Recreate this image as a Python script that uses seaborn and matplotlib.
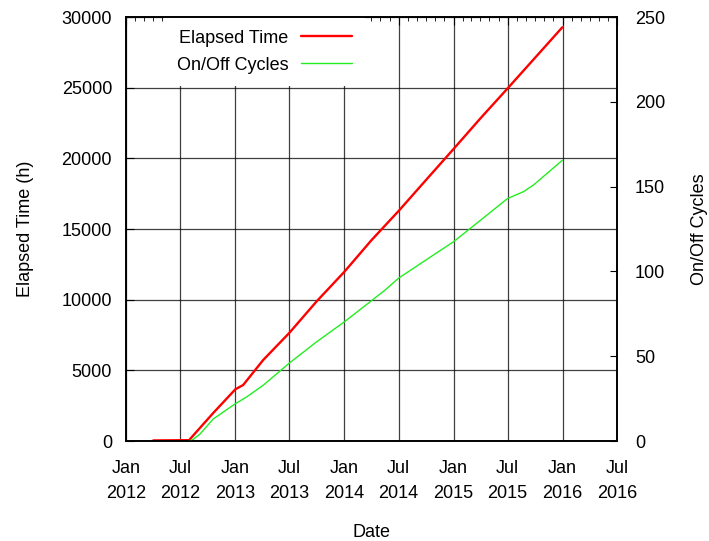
import matplotlib
matplotlib.use("Agg")
import matplotlib.pyplot as plt
import matplotlib.dates as mdates
from matplotlib.ticker import MultipleLocator
import pandas as pd
import seaborn as sns

# Elapsed operating time (hours)
elapsed_dates = ["2012-04-01", "2012-07-30", "2012-10-18", "2013-01-01", "2013-01-27",
                 "2013-04-04", "2013-07-01", "2013-09-29", "2014-01-01", "2014-04-01",
                 "2014-07-01", "2014-10-01", "2015-01-01", "2015-04-01", "2015-07-01",
                 "2015-10-01", "2015-12-31"]
elapsed_hours = [40, 60, 1960, 3660, 3960, 5730, 7660, 9860, 11980, 14200,
                 16270, 18470, 20660, 22830, 24950, 27120, 29270]

# Power on/off cycle count
cycle_dates = ["2012-07-30", "2012-08-13", "2012-09-04", "2012-10-19", "2013-01-01",
               "2013-02-08", "2013-04-05", "2013-07-01", "2013-09-30", "2014-01-01",
               "2014-05-17", "2014-07-01", "2014-10-09", "2015-01-01", "2015-03-31",
               "2015-07-01", "2015-08-23", "2015-09-26", "2015-12-31"]
cycle_counts = [0, 1, 4, 13, 22, 26, 33, 46, 58.5, 70.3,
                89, 96, 107.7, 117.5, 130, 143, 147, 151, 165.5]

sns.set_style("white")
plt.rcParams["font.family"] = ["Liberation Sans", "DejaVu Sans"]
plt.rcParams["font.size"] = 13
for key in ("text.color", "axes.labelcolor", "xtick.color", "ytick.color"):
    plt.rcParams[key] = "black"

df_e = pd.DataFrame({"date": pd.to_datetime(elapsed_dates), "hours": elapsed_hours})
df_c = pd.DataFrame({"date": pd.to_datetime(cycle_dates), "cycles": cycle_counts})

fig = plt.figure(figsize=(7.09, 5.41), dpi=100)
ax = fig.add_axes([126 / 709, 1 - 441 / 541, 491 / 709, 424 / 541])
ax2 = ax.twinx()

sns.lineplot(data=df_e, x="date", y="hours", ax=ax, color="#ff0000", lw=1.7,
             label="Elapsed Time", legend=False)
sns.lineplot(data=df_c, x="date", y="cycles", ax=ax2, color="#22ee22", lw=1.0,
             label="On/Off Cycles", legend=False)

ax.set_xlim(pd.Timestamp("2012-01-01"), pd.Timestamp("2016-07-01"))
ax.set_ylim(0, 30000)
ax2.set_ylim(0, 250)
ax.yaxis.set_major_locator(MultipleLocator(5000))
ax2.yaxis.set_major_locator(MultipleLocator(50))
ax.xaxis.set_major_locator(mdates.MonthLocator(bymonth=[1, 7]))
ax.xaxis.set_minor_locator(mdates.MonthLocator())
ax.xaxis.set_major_formatter(mdates.DateFormatter("%b\n%Y"))

ax.grid(True, which="major", color="black", lw=0.9, alpha=0.75)
ax.set_axisbelow(True)

ax.tick_params(axis="x", which="major", direction="in", length=6, top=True,
               pad=14, labelsize=13)
ax.tick_params(axis="x", which="minor", direction="in", length=3, top=True)
ax.tick_params(axis="y", which="major", direction="in", length=6, left=True,
               right=False, pad=10, labelsize=13)
ax2.tick_params(axis="y", which="major", direction="in", length=5, right=True,
                left=False, pad=13, labelsize=13)
fig.canvas.draw()
for lbl in ax.get_xticklabels():
    lbl.set_horizontalalignment("center")
    lbl.set_multialignment("center")
    lbl.set_linespacing(1.55)

for a in (ax, ax2):
    for s in a.spines.values():
        s.set_color("black")
        s.set_linewidth(1.2)

ax.set_xlabel("Date", fontsize=13, va="center")
ax.xaxis.set_label_coords(0.5, -0.215)
ax.set_ylabel("Elapsed Time (h)", fontsize=13, va="center")
ax.yaxis.set_label_coords(-0.205, 0.5)
ax2.set_ylabel("On/Off Cycles", fontsize=13, va="center")
ax2.yaxis.set_label_coords(1.168, 0.5)

# Legend sits on the primary axes, above the grid but under spines and ticks
handles = ax.get_lines()[:1] + ax2.get_lines()[:1]
leg = ax.legend(handles, ["Elapsed Time", "On/Off Cycles"], loc="upper right",
                bbox_to_anchor=(0.486, 1.0), markerfirst=False, frameon=True,
                fancybox=False, edgecolor="none", framealpha=1.0, fontsize=13,
                handlelength=2.8, handletextpad=0.72, labelspacing=0.55,
                borderaxespad=0.0, borderpad=0.7)
for t in leg.get_texts():
    t.set_horizontalalignment("right")
leg.set_zorder(2.2)

fig.savefig("out.png", dpi=100)
